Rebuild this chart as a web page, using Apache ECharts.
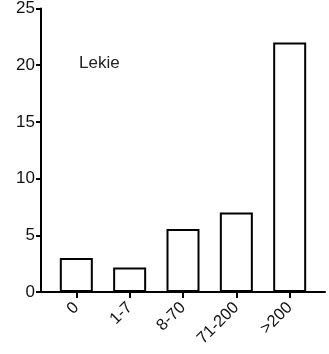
<!DOCTYPE html>
<html>
<head>
<meta charset="utf-8">
<script src="https://cdn.jsdelivr.net/npm/echarts@6/dist/echarts.min.js"></script>
<style>html,body{margin:0;padding:0;background:#fff}#c{width:329px;height:354px}</style>
</head>
<body>
<div id="c"></div>
<script>
const categories = ['0', '1-7', '8-70', '71-200', '>200'];
const values = [3, 2.15, 5.55, 7, 22];
const yTicks = [0, 5, 10, 15, 20, 25];
const titleText = 'Lekie';

const font = '"Liberation Sans", Arial, sans-serif';
const chart = echarts.init(document.getElementById('c'));
const idx = categories.map((_, i) => i);
chart.setOption({
  animation: false,
  grid: { left: 41, right: 4, top: 7, bottom: 62 },
  xAxis: {
    type: 'value', min: -0.662, max: 4.662,
    splitLine: { show: false },
    axisLine: { show: true, onZero: false, lineStyle: { color: '#000', width: 2 } },
    axisTick: { show: true, customValues: idx, length: 6, lineStyle: { color: '#000', width: 2 } },
    axisLabel: {
      customValues: idx, rotate: 45, margin: 13,
      color: '#111', fontSize: 16.5, fontFamily: font,
      formatter: v => categories[Math.round(v)]
    }
  },
  yAxis: {
    type: 'value', min: yTicks[0], max: yTicks[yTicks.length - 1], interval: 5,
    splitLine: { show: false },
    axisLine: { show: true, onZero: false, lineStyle: { color: '#000', width: 2 } },
    axisTick: { show: true, length: 5, lineStyle: { color: '#000', width: 2 } },
    axisLabel: { color: '#111', fontSize: 17, fontFamily: font, margin: 6 }
  },
  series: [{
    type: 'bar',
    barWidth: 33,
    data: values.map((v, i) => [i, v]),
    itemStyle: { color: '#fff', borderColor: '#000', borderWidth: 2 }
  }],
  graphic: [{
    type: 'text', left: 79, top: 55,
    style: { text: titleText, fill: '#222', font: '17px ' + font }
  }]
});
</script>
</body>
</html>
